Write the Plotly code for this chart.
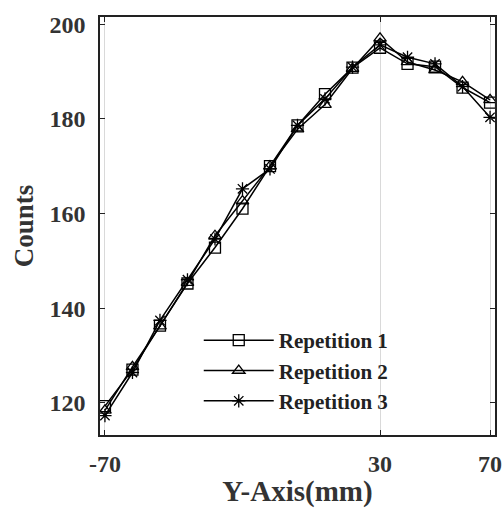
import plotly.graph_objects as go

x_mm = [-70, -60, -50, -40, -30, -20, -10, 0, 10, 20, 30, 40, 50, 60, 70]
rep1 = [119.3, 127.0, 136.3, 145.2, 152.8, 161.0, 170.0, 178.6, 185.2, 190.8, 195.0, 191.6, 191.0, 186.6, 183.4]
rep2 = [118.4, 127.6, 136.2, 145.4, 155.3, 162.6, 170.0, 177.8, 183.0, 190.6, 197.0, 192.0, 190.3, 187.8, 184.0]
rep3 = [117.3, 126.4, 137.4, 146.0, 154.6, 165.2, 169.4, 178.6, 184.2, 190.9, 195.6, 193.0, 191.6, 186.8, 180.3]

series = [("Repetition 1", rep1, "square-open"),
          ("Repetition 2", rep2, "triangle-up-open"),
          ("Repetition 3", rep3, "asterisk-open")]

fig = go.Figure()
for name, ys, sym in series:
    fig.add_trace(go.Scatter(
        x=x_mm, y=ys, name=name, mode="lines+markers",
        line=dict(color="black", width=1.5),
        marker=dict(symbol=sym, size=11, color="black", line=dict(width=1.3, color="black")),
    ))

font_family = "Liberation Serif"
fig.update_layout(
    width=502, height=508,
    margin=dict(l=100, r=7, t=17, b=73),
    paper_bgcolor="white", plot_bgcolor="white",
    font=dict(family=font_family, color="#333333", size=20),
    showlegend=True,
    legend=dict(x=0.25, y=0.275, xanchor="left", yanchor="top",
                bgcolor="rgba(0,0,0,0)", borderwidth=0,
                font=dict(family=font_family, size=21, color="#222222", weight="bold"),
                itemwidth=70, tracegroupgap=0),
)
fig.update_xaxes(
    range=[-71.8, 71.8], tickvals=[-70, 30, 70], ticktext=["-70", "30", "70"],
    showgrid=True, gridcolor="#d9d9d9", gridwidth=1, automargin=False,
    showline=True, linecolor="#222222", linewidth=1.5, mirror="ticks",
    ticks="inside", ticklen=5, tickcolor="#222222", zeroline=False,
    tickfont=dict(family=font_family, size=24, color="#333333", weight="bold"),
    ticklabelstandoff=6, ticklabeloverflow="allow",
    title=dict(text="Y-Axis(mm)", standoff=13,
               font=dict(family=font_family, size=29, color="#333333", weight="bold")),
)
fig.update_yaxes(
    range=[113.2, 201.5], tickvals=[120, 140, 160, 180, 200],
    showgrid=False, automargin=False,
    showline=True, linecolor="#222222", linewidth=1.5, mirror="ticks",
    ticks="inside", ticklen=5, tickcolor="#222222", zeroline=False,
    tickfont=dict(family=font_family, size=24, color="#333333", weight="bold"),
    ticklabelstandoff=8, ticklabeloverflow="allow",
    title=dict(text="Counts", standoff=8,
               font=dict(family=font_family, size=27, color="#333333", weight="bold")),
)

fig.write_html("out.html")
